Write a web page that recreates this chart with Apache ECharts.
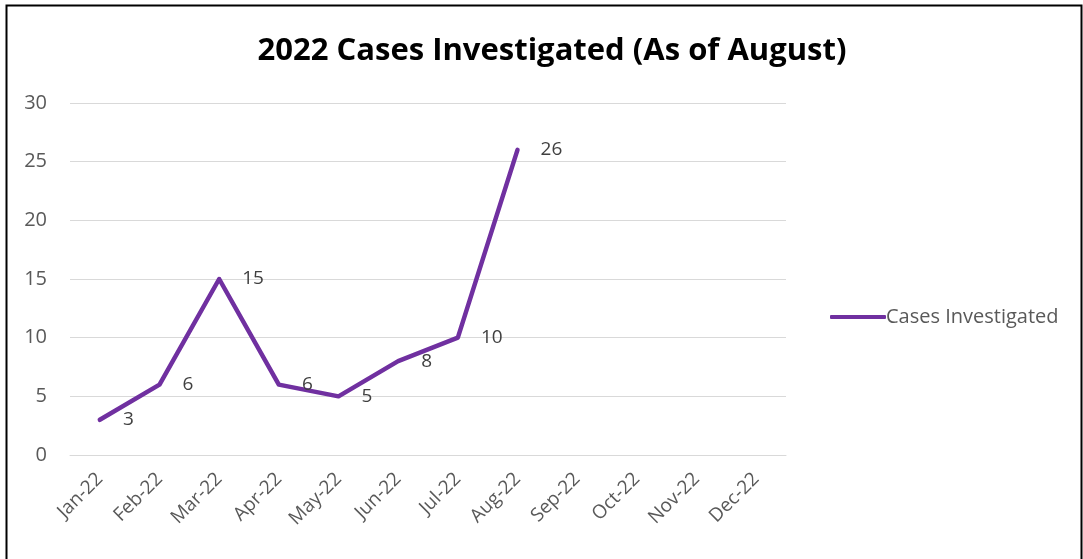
<!DOCTYPE html>
<html><head><meta charset="utf-8">
<script src="https://cdn.jsdelivr.net/npm/echarts@6/dist/echarts.min.js"></script>
<style>html,body{margin:0;padding:0;background:#fff}#c{width:1083px;height:559px}</style>
</head><body><div id="c"></div>
<script>
const categories = ['Jan-22','Feb-22','Mar-22','Apr-22','May-22','Jun-22','Jul-22','Aug-22','Sep-22','Oct-22','Nov-22','Dec-22'];
const casesInvestigated = [3, 6, 15, 6, 5, 8, 10, 26, null, null, null, null];
const yTicks = {min: 0, max: 30, interval: 5};
const seriesName = 'Cases Investigated';
const titleText = '2022 Cases Investigated (As of August)';

const chart = echarts.init(document.getElementById('c'), null, {renderer: 'canvas'});
const font = '"Open Sans", "Noto Sans", sans-serif';
chart.setOption({
  animation: false,
  graphic: [{type: 'rect', shape: {x: 6.5, y: 5.5, width: 1075, height: 560}, style: {fill: 'none', stroke: '#000', lineWidth: 2}, z: 100}],
  title: {text: titleText, left: 547, top: 31, textAlign: 'center',
    textStyle: {fontFamily: font, fontWeight: 'bold', fontSize: 31, color: '#000'}},
  legend: {data: [seriesName], left: 825, top: 302, itemWidth: 56, itemHeight: 4, itemGap: 0,
    icon: 'roundRect',
    textStyle: {fontFamily: font, fontSize: 20, color: '#595959', padding: [0,0,0,-5]}},
  grid: {left: 70, right: 297, top: 103, bottom: 104, containLabel: false},
  xAxis: {type: 'category', data: categories, boundaryGap: true,
    axisLine: {lineStyle: {color: '#d9d9d9'}}, axisTick: {show: false},
    axisLabel: {rotate: 45, interval: 0, fontFamily: font, fontSize: 19, color: '#595959', margin: 21}},
  yAxis: {type: 'value', min: yTicks.min, max: yTicks.max, interval: yTicks.interval,
    axisLine: {show: false}, axisTick: {show: false},
    splitLine: {lineStyle: {color: '#d9d9d9', width: 1}},
    axisLabel: {fontFamily: font, fontSize: 20, color: '#595959', margin: 23}},
  series: [{name: seriesName, type: 'line', data: casesInvestigated, symbol: 'circle', symbolSize: 0.1, showSymbol: true,
    lineStyle: {color: '#7030a0', width: 4.5, cap: 'round', join: 'round'}, itemStyle: {color: '#7030a0'},
    label: {show: true, position: 'right', distance: 23, fontFamily: font, fontSize: 19, color: '#404040'}}]
});
</script></body></html>
